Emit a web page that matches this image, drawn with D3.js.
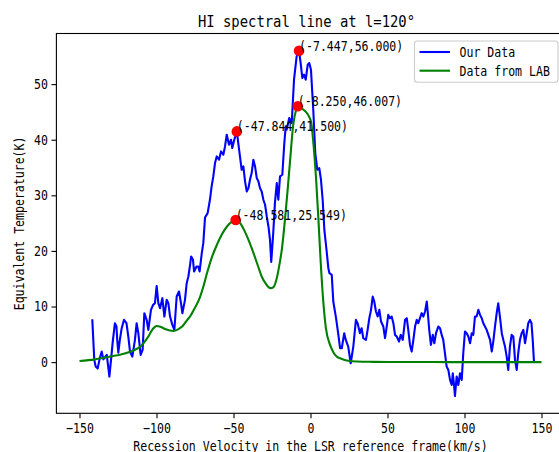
<!DOCTYPE html>
<html><head><meta charset="utf-8">
<script src="https://cdn.jsdelivr.net/npm/d3@7"></script>
<style>body{margin:0;background:#fff;overflow:hidden}</style>
</head><body>
<svg id="c" width="559" height="452"></svg>
<script>
// ---- data ----
const labVelocity = [-150,-140,-130,-120,-115,-110,-106,-102,-100,-97,-94,-89,-86,-83,-80,-78,-75,-72,-70,-67,-64,-62,-59,-56,-53,-50,-48.6,-46,-43,-40,-37,-34,-31.7,-29,-26,-24,-22,-20,-18.5,-16.6,-15,-13.3,-11.2,-9.5,-8.25,-6,-3,-1,0.5,2,3.6,5.1,6.6,8.3,10,12.7,15,17,20,23.5,30,40,60,80,100,120,140,150];
const labTemp = [0.2,0.5,1.0,1.6,2.1,2.9,4.3,6.1,6.5,6.3,5.9,5.6,5.9,6.5,7.6,8.3,9.8,11.5,13.2,16.2,18.9,20.3,22.2,23.7,24.8,25.4,25.55,25.1,23.7,21.8,19.6,17.2,15.4,14.1,13.3,13.5,15.0,17.8,20.5,25.6,30.5,36.1,42.7,45.2,46.0,45.7,45.0,44.2,43.0,39.0,33.1,25.9,18.1,10.9,6.1,3.1,1.7,1.0,0.6,0.3,0.1,0.05,0.02,0.01,0.0,0.0,0.0,0.0];

const ourVelocity = [-141.7,-140.4,-139.5,-138.2,-137,-135.6,-134.5,-133.4,-132.3,-131.5,-130.6,-129.5,-128.4,-127,-126,-125.5,-124.8,-123.8,-122.6,-121.1,-119.5,-118.3,-117.2,-115.7,-114,-112.9,-111.8,-110.3,-109,-107.9,-106.4,-105.3,-103.6,-102.2,-101,-99.9,-98.8,-97.7,-96.2,-94.9,-93.4,-92.3,-91.2,-89.7,-88.4,-86.9,-85.4,-84.1,-83.2,-81.5,-80.4,-79.3,-78.2,-77.5,-76.3,-75.6,-74,-72.9,-72,-70.6,-69.6,-68.5,-66.8,-65.3,-64.2,-63.1,-62,-60.9,-59.4,-58.1,-56.6,-55.5,-54.4,-52.9,-51.6,-50.8,-49.5,-47.844,-46.9,-45.8,-44.7,-43.6,-42.5,-41.4,-40.3,-39.3,-38.2,-37.1,-36,-34.9,-33.8,-32.8,-31.7,-30.6,-29.5,-28.4,-27.3,-26.3,-25.5,-24.2,-23.1,-21.9,-20.9,-19.8,-18.3,-17,-16.1,-15.5,-13.8,-12.2,-10.7,-9,-7.447,-6.4,-5.3,-4.2,-3.1,-1.8,-0.8,0.3,1.8,3.1,4.4,5.7,6.8,7.9,9,10.5,11.6,12.3,13.8,14.8,16.6,18.1,19.2,20.3,21.9,22.9,24.5,26.1,27.8,29.5,30.6,32.1,33.2,34.3,36,37.1,38.2,39.3,40.4,41.4,42.5,43.6,44.7,45.8,47.3,48.4,49.5,50.5,51.6,52.7,53.8,54.9,56,57.5,58.6,59.9,61.4,62.5,63.5,64.6,65.7,66.8,67.9,69,70,71.1,72.2,73.3,74.4,75.5,76.2,77.1,78.2,79.4,80.4,81.5,83,84.1,85.2,86.2,87.3,88.4,89.5,90.6,91.7,92.4,93.2,93.8,94.9,96,97.1,98.2,99.2,100.3,101.4,102.5,103.6,104.7,105.7,106.8,107.9,109,110.1,111.2,112.2,113.3,114.4,115.5,116.6,117.7,118.7,119.8,120.9,121.9,123,124.2,125.2,126.3,127.4,128.4,129.5,130.6,131.7,132.8,133.9,134.9,136,137.1,138.2,139.3,140.4,141.4,142.5,143.5,144.3,145.1];
const ourTemp = [7.7,0.4,-0.8,-1.15,0.5,1.9,0.5,0.9,1.3,-0.5,-2.6,0.5,3.7,7.0,6.4,4.0,1.7,4.0,6.1,7.6,7.0,4.6,1.9,1.0,4.0,7.0,5.2,1.3,2.2,8.8,7.6,5.8,9.4,10.3,10.6,13.7,10.6,9.7,11.5,8.2,11.2,10.6,8.2,6.7,5.8,11.8,12.7,10.6,8.8,11.2,14.2,15.4,17.5,19.0,18.4,16.3,17.2,17.2,16.3,19.6,21.4,26.0,26.8,29.2,31.6,33.4,35.8,37.0,36.4,37.9,37.3,38.8,40.9,39.1,40.0,38.5,40.0,41.5,39.4,37.0,34.6,35.2,32.5,30.7,31.3,32.8,34.0,36.4,35.2,33.1,32.5,31.3,30.7,29.2,28.3,26.2,24.4,22.0,18.0,23.2,28.6,32.2,29.2,33.4,33.7,39.4,42.4,41.8,43.9,43.0,50.8,55.0,56.0,53.8,51.1,51.7,50.8,53.5,53.8,52.6,45.4,37.6,34.6,34.9,32.8,29.2,23.8,19.9,16.9,16.0,15.7,10.9,7.9,4.9,2.5,2.5,5.2,4.0,2.8,-0.2,2.8,7.6,7.0,5.2,6.1,4.3,4.0,5.8,7.9,9.4,11.8,10.9,9.1,8.2,9.4,7.3,6.4,4.3,6.4,8.5,7.9,8.2,7.0,4.9,4.6,3.7,4.9,4.0,7.6,7.9,5.8,3.1,1.9,4.0,6.4,7.6,7.0,7.9,8.8,8.2,9.1,10.9,8.8,5.8,3.1,4.9,3.4,5.2,6.4,6.1,4.9,4.0,1.6,-0.8,-1.4,-3.2,-4.1,-2.0,-4.1,-6.1,-2.6,-4.1,-2.0,-3.2,1.6,5.5,5.2,4.6,3.4,5.2,4.9,8.2,8.2,9.4,8.5,7.9,7.0,6.4,5.8,4.9,4.0,1.9,3.7,6.4,8.8,10.6,8.2,5.2,4.0,2.8,1.0,-1.4,2.8,4.9,4.6,0.4,-1.4,1.6,4.0,5.2,5.8,3.4,5.2,7.0,7.6,7.0,4.0,0.1];

const peakV = [-7.447, -8.250, -47.844, -48.581];
const peakT = [56.000, 46.007, 41.500, 25.549];
const xTicks = [-150, -100, -50, 0, 50, 100, 150];
const yTicks = [0, 10, 20, 30, 40, 50];
const seriesNames = ["Our Data", "Data from LAB"];
const seriesColors = ["#0000ff", "#008000"];
const titleText = "HI spectral line at l=120\u00b0";
const xLabel = "Recession Velocity in the LSR reference frame(km/s)";
const yLabel = "Equivalent Temperature(K)";

// ---- layout ----
const L = 56.4, R = 564.6, T = 33.5, B = 413.3;
const FONT = "'DejaVu Sans Mono','Liberation Mono',monospace";
const svg = d3.select("#c");

function mono(sel, size) {
  sel.attr("font-family", FONT).attr("font-size", size)
     .attr("lengthAdjust", "spacingAndGlyphs")
     .attr("textLength", function() { return this.textContent.length * size * 0.5; });
  return sel;
}

const allV = labVelocity.concat(ourVelocity);
const allT = labTemp.concat(ourTemp);
const [vmin, vmax] = d3.extent(allV);
const [tmin, tmax] = d3.extent(allT);
const mx = (vmax - vmin) * 0.05, my = (tmax - tmin) * 0.05;
const x = d3.scaleLinear().domain([vmin - mx, vmax + mx]).range([L, R]);
const y = d3.scaleLinear().domain([tmin - my, tmax + my]).range([B, T]);

const ourData = ourVelocity.map((v, i) => [v, ourTemp[i]]);
const labData = labVelocity.map((v, i) => [v, labTemp[i]]);
const line = d3.line().x(d => x(d[0])).y(d => y(d[1]));

svg.append("clipPath").attr("id", "pc").append("rect")
  .attr("x", L).attr("y", T).attr("width", R - L).attr("height", B - T);

const g = svg.append("g").attr("clip-path", "url(#pc)");
g.append("path").datum(ourData).attr("d", line).attr("fill", "none")
  .attr("stroke", seriesColors[0]).attr("stroke-width", 2.1).attr("stroke-linejoin", "round");
g.append("path").datum(labData).attr("d", d3.line().curve(d3.curveMonotoneX).x(d => x(d[0])).y(d => y(d[1])))
  .attr("fill", "none")
  .attr("stroke", seriesColors[1]).attr("stroke-width", 2.1).attr("stroke-linejoin", "round");

// peaks
g.selectAll("circle.pk").data(peakV).enter().append("circle")
  .attr("cx", d => x(d)).attr("cy", (d, i) => y(peakT[i])).attr("r", 5.3).attr("fill", "#ff0000");

// axes
const xAxis = svg.append("g").attr("transform", `translate(0,${B})`)
  .call(d3.axisBottom(x).tickValues(xTicks).tickSizeOuter(0).tickSize(4.9).tickPadding(3.5)
    .tickFormat(d => d3.format("")(d).replace("-", "\u2212")));
const yAxis = svg.append("g").attr("transform", `translate(${L},0)`)
  .call(d3.axisLeft(y).tickValues(yTicks).tickSizeOuter(0).tickSize(4.9).tickPadding(3.5)
    .tickFormat(d => d3.format("")(d)));
[xAxis, yAxis].forEach(a => {
  a.select(".domain").remove();
  a.selectAll(".tick line").attr("stroke", "#000").attr("stroke-width", 1.1);
  mono(a.selectAll(".tick text").attr("fill", "#000"), 13.9);
});
xAxis.selectAll(".tick text").attr("dy", "0.78em");

// frame
svg.append("rect").attr("x", L).attr("y", T).attr("width", R - L).attr("height", B - T)
  .attr("fill", "none").attr("stroke", "#000").attr("stroke-width", 1.1);

// annotations
peakV.forEach((v, i) => {
  const t = svg.append("text").attr("x", x(v)).attr("y", y(peakT[i])).attr("fill", "#000")
    .text("(" + v.toFixed(3) + "," + peakT[i].toFixed(3) + ")");
  mono(t, 13.9);
});

// title & labels
mono(svg.append("text").attr("x", (L + R) / 2 - 4).attr("y", 27).attr("text-anchor", "middle")
  .attr("fill", "#000").text(titleText), 16.7);
mono(svg.append("text").attr("x", (L + R) / 2).attr("y", 451).attr("text-anchor", "middle")
  .attr("fill", "#000").text(xLabel), 13.9);
mono(svg.append("text").attr("transform", `translate(24,${(T + B) / 2}) rotate(-90)`)
  .attr("text-anchor", "middle").attr("fill", "#000").text(yLabel), 13.9);

// legend
const lg = svg.append("g");
lg.append("rect").attr("x", 414.5).attr("y", 41).attr("width", 143.5).attr("height", 41.3)
  .attr("rx", 3).attr("fill", "#fff").attr("fill-opacity", 0.8)
  .attr("stroke", "#cccccc").attr("stroke-width", 1.1);
seriesNames.forEach((n, i) => {
  const yy = 52 + i * 18.7;
  lg.append("line").attr("x1", 419.5).attr("x2", 450).attr("y1", yy).attr("y2", yy)
    .attr("stroke", seriesColors[i]).attr("stroke-width", 2.1);
  mono(lg.append("text").attr("x", 459.5).attr("y", yy + 5).attr("fill", "#000").text(n), 13.9);
});
</script>
</body></html>
